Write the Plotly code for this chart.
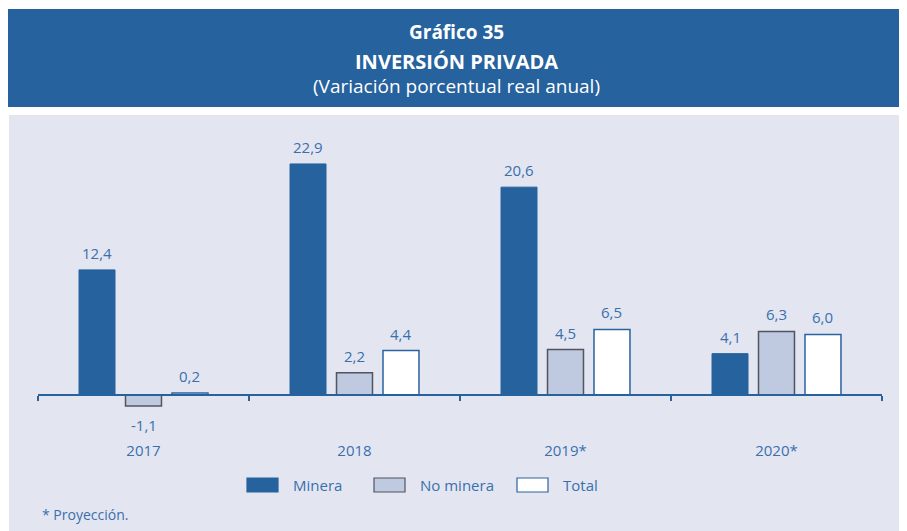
import plotly.graph_objects as go

years = ["2017", "2018", "2019*", "2020*"]
minera = [12.4, 22.9, 20.6, 4.1]
no_minera = [-1.1, 2.2, 4.5, 6.3]
total = [0.2, 4.4, 6.5, 6.0]
series_names = ["Minera", "No minera", "Total"]

OFF = 8  # page body margin offset in the screenshot
W, H = 907 - OFF, 531 - OFF
PL, PR, PT, PB = 38 - OFF, 882 - OFF, 130 - OFF, 430 - OFF
ZERO_PX = 395 - OFF
PX_PER_UNIT = 10.09
ymax = (ZERO_PX - PT) / PX_PER_UNIT
ymin = -(PB - ZERO_PX) / PX_PER_UNIT

def xp(px):
    return (px - OFF - PL) / (PR - PL)

def yp(py):
    return (PB - (py - OFF)) / (PB - PT)

BLUE = "#26629D"
LABEL = "#3A6FAD"
PANEL = "#E3E6F1"
GRAY_FILL = "#BFC9E0"
FONT = "Open Sans"

bargap = 0.339
bargroupgap = 0.226
slot = (1 - bargap) / 3

fig = go.Figure()
styles = [
    dict(color=BLUE, line=dict(color=BLUE, width=1)),
    dict(color=GRAY_FILL, line=dict(color="#505560", width=1.5)),
    dict(color="#FFFFFF", line=dict(color="#2A63A0", width=1.5)),
]
for name, vals, st in zip(series_names, [minera, no_minera, total], styles):
    fig.add_trace(go.Bar(x=years, y=vals, name=name, marker=st, showlegend=False))

annotations = []
for k, vals in enumerate([minera, no_minera, total]):
    for i, v in enumerate(vals):
        xpos = i + (k - 1) * slot
        annotations.append(dict(
            x=xpos, y=v, xref="x", yref="y", text=f"{v:.1f}".replace(".", ","),
            showarrow=False, yanchor="middle", yshift=17 if v >= 0 else -19,
            font=dict(family=FONT, size=15, color=LABEL)))

xc = xp(456)
annotations += [
    dict(x=xc, xref="paper", y=yp(32), yref="paper", text="<b>Gráfico 35</b>", showarrow=False,
         font=dict(family=FONT, size=19, color="white"), yanchor="middle"),
    dict(x=xc, xref="paper", y=yp(61), yref="paper", text="<b>INVERSIÓN PRIVADA</b>", showarrow=False,
         font=dict(family=FONT, size=20, color="white"), yanchor="middle"),
    dict(x=xc, xref="paper", y=yp(86), yref="paper", text="(Variación porcentual real anual)", showarrow=False,
         font=dict(family=FONT, size=19, color="white"), yanchor="middle"),
    dict(x=xp(40), xref="paper", y=yp(514), yref="paper", text="* Proyección.", showarrow=False,
         font=dict(family=FONT, size=14, color=LABEL), xanchor="left", yanchor="middle"),
]

shapes = [
    dict(type="rect", xref="paper", yref="paper", x0=xp(5), x1=xp(910), y0=yp(9), y1=yp(107),
         fillcolor=BLUE, line=dict(width=0), layer="below"),
    dict(type="rect", xref="paper", yref="paper", x0=xp(9), x1=xp(910), y0=yp(115), y1=yp(535),
         fillcolor=PANEL, line=dict(width=0), layer="below"),
]

leg_x = [247, 374, 517]
leg_fill = [BLUE, GRAY_FILL, "#FFFFFF"]
leg_line = [BLUE, "#505560", "#2A63A0"]
for name, lx, fc, lc in zip(series_names, leg_x, leg_fill, leg_line):
    shapes.append(dict(type="rect", xref="paper", yref="paper", x0=xp(lx), x1=xp(lx + 31),
                       y0=yp(492), y1=yp(478), fillcolor=fc, line=dict(color=lc, width=1.2)))
    annotations.append(dict(x=xp(lx + 44), xref="paper", y=yp(485), yref="paper", text=name,
                            showarrow=False, xanchor="left", yanchor="middle",
                            font=dict(family=FONT, size=15, color=LABEL)))

zero_pos = (0 - ymin) / (ymax - ymin)

fig.update_layout(
    width=W, height=H,
    margin=dict(l=PL, r=W - PR, t=PT, b=H - PB, pad=0),
    paper_bgcolor="white", plot_bgcolor="rgba(0,0,0,0)",
    barmode="group", bargap=bargap, bargroupgap=bargroupgap,
    showlegend=False,
    xaxis=dict(type="category", range=[-0.5, 3.5], anchor="free", position=zero_pos,
               showline=True, linecolor=BLUE, linewidth=1.5, showgrid=False, zeroline=False,
               tickson="boundaries", ticks="outside", ticklen=5, tickcolor=BLUE, tickwidth=1.5,
               ticklabelstandoff=42,
               tickfont=dict(family=FONT, size=15, color=LABEL)),
    yaxis=dict(range=[ymin, ymax], visible=False, showgrid=False, zeroline=False),
    annotations=annotations, shapes=shapes,
)

fig.write_html("out.html")
